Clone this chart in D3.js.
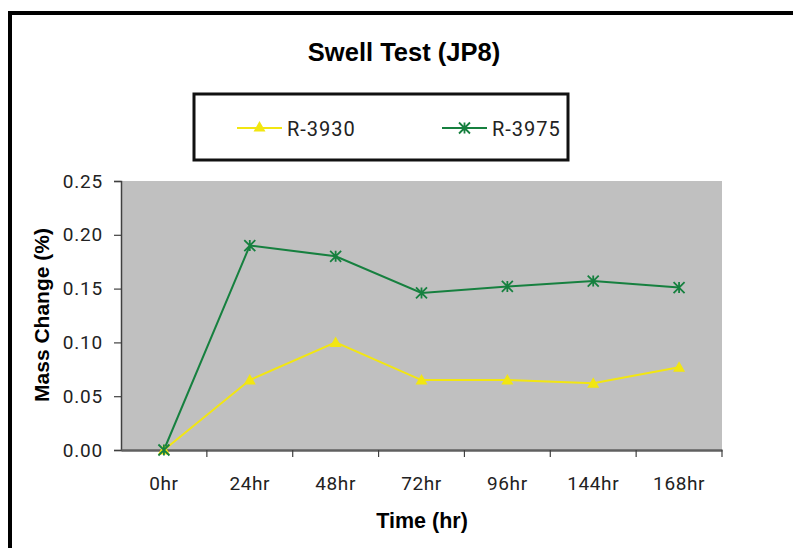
<!DOCTYPE html>
<html><head><meta charset="utf-8">
<script src="https://cdn.jsdelivr.net/npm/d3@7"></script>
<style>
html,body{margin:0;padding:0;background:#fff;}
svg{display:block;}
.tick text{font-family:Roboto,"Liberation Sans",sans-serif;}
</style></head>
<body>
<svg id="chart" width="793" height="548"></svg>
<script>
const categories = ["0hr","24hr","48hr","72hr","96hr","144hr","168hr"];
const r3930 = [0.000, 0.065, 0.100, 0.065, 0.065, 0.062, 0.077];
const r3975 = [0.000, 0.190, 0.180, 0.146, 0.152, 0.157, 0.151];
const yTicks = [0, 0.05, 0.10, 0.15, 0.20, 0.25];
const seriesNames = ["R-3930","R-3975"];
const colors = {"R-3930":"#f2e611","R-3975":"#16803f"};

const svg = d3.select("#chart");
const tickFont = 'Roboto,"Liberation Sans",sans-serif';
const bold = '"Liberation Sans",Arial,sans-serif';

// outer frame
svg.append("rect").attr("x",10).attr("y",13).attr("width",820).attr("height",600)
  .attr("fill","none").attr("stroke","#000").attr("stroke-width",4);

const m = {left:121, right:722, top:181, bottom:450};
const x = d3.scaleBand().domain(categories).range([m.left,m.right]);
const y = d3.scaleLinear().domain([0,0.25]).range([m.bottom,m.top]);

// plot background
svg.append("rect").attr("x",m.left).attr("y",m.top)
  .attr("width",m.right-m.left).attr("height",m.bottom-m.top).attr("fill","#c0c0c0");

// title
svg.append("text").attr("x",404).attr("y",61).attr("text-anchor","middle")
  .attr("font-family",bold).attr("font-weight","bold").attr("font-size",25.5)
  .text("Swell Test (JP8)");

// y axis
const yAxis = d3.axisLeft(y).tickValues(yTicks).tickFormat(d3.format(".2f")).tickSize(7).tickPadding(11);
const gy = svg.append("g").attr("transform",`translate(${m.left},0)`).call(yAxis);
gy.select(".domain").attr("stroke","#404040").attr("stroke-width",1.5);
gy.selectAll(".tick line").attr("stroke","#404040").attr("stroke-width",1.2);
gy.selectAll(".tick text").attr("font-size",19).attr("letter-spacing","0.8px").attr("fill","#222");

// x axis
const xAxis = d3.axisBottom(x).tickSize(0).tickPadding(27);
const gx = svg.append("g").attr("transform",`translate(0,${m.bottom})`).call(xAxis);
gx.select(".domain").attr("stroke","#606060").attr("stroke-width",2.5);
gx.selectAll(".tick text").attr("font-size",19).attr("letter-spacing","0.6px").attr("fill","#222");
// boundary ticks
const bounds = categories.map(c => x(c)+x.bandwidth());
svg.append("g").selectAll("line").data(bounds).join("line")
  .attr("x1",d=>d).attr("x2",d=>d).attr("y1",m.bottom).attr("y2",m.bottom+7)
  .attr("stroke","#404040").attr("stroke-width",1.2);

// axis titles
svg.append("text").attr("transform",`translate(49,315) rotate(-90)`).attr("text-anchor","middle")
  .attr("font-family",bold).attr("font-weight","bold").attr("font-size",21).text("Mass Change (%)");
svg.append("text").attr("x",422).attr("y",528).attr("text-anchor","middle")
  .attr("font-family",bold).attr("font-weight","bold").attr("font-size",21.5).text("Time (hr)");

const cx = c => x(c)+x.bandwidth()/2;
const line = d3.line().x((d,i)=>cx(categories[i])).y(d=>y(d));

function triangle(g, px, py, col){
  g.append("path").attr("d",`M${px},${py-6} L${px+6},${py+4.5} L${px-6},${py+4.5} Z`).attr("fill",col);
}
function star(g, px, py, col){
  const s=5.5;
  g.append("path").attr("d",`M${px},${py-s}L${px},${py+s}M${px-s},${py-s}L${px+s},${py+s}M${px-s},${py+s}L${px+s},${py-s}`)
    .attr("stroke",col).attr("stroke-width",1.8).attr("fill","none");
}

// series
const gs = svg.append("g");
gs.append("path").datum(r3930).attr("d",line).attr("fill","none").attr("stroke",colors["R-3930"]).attr("stroke-width",2);
gs.append("path").datum(r3975).attr("d",line).attr("fill","none").attr("stroke",colors["R-3975"]).attr("stroke-width",2);
r3930.forEach((v,i)=>triangle(gs,cx(categories[i]),y(v),colors["R-3930"]));
r3975.forEach((v,i)=>star(gs,cx(categories[i]),y(v),colors["R-3975"]));

// legend
svg.append("rect").attr("x",194).attr("y",94).attr("width",374).attr("height",66)
  .attr("fill","#fff").attr("stroke","#111").attr("stroke-width",3);
const legX = [237, 442];
seriesNames.forEach((n,i)=>{
  const lx = legX[i], ly = 128;
  svg.append("line").attr("x1",lx).attr("x2",lx+45).attr("y1",ly).attr("y2",ly)
    .attr("stroke",colors[n]).attr("stroke-width",2);
  if(i===0) triangle(svg,lx+22.5,ly-1,colors[n]); else star(svg,lx+22.5,ly,colors[n]);
  svg.append("text").attr("x",lx+50).attr("y",ly+7.5).attr("font-family",tickFont).attr("font-size",20)
    .attr("letter-spacing","1px").attr("fill","#222").text(n);
});
</script>
</body></html>
